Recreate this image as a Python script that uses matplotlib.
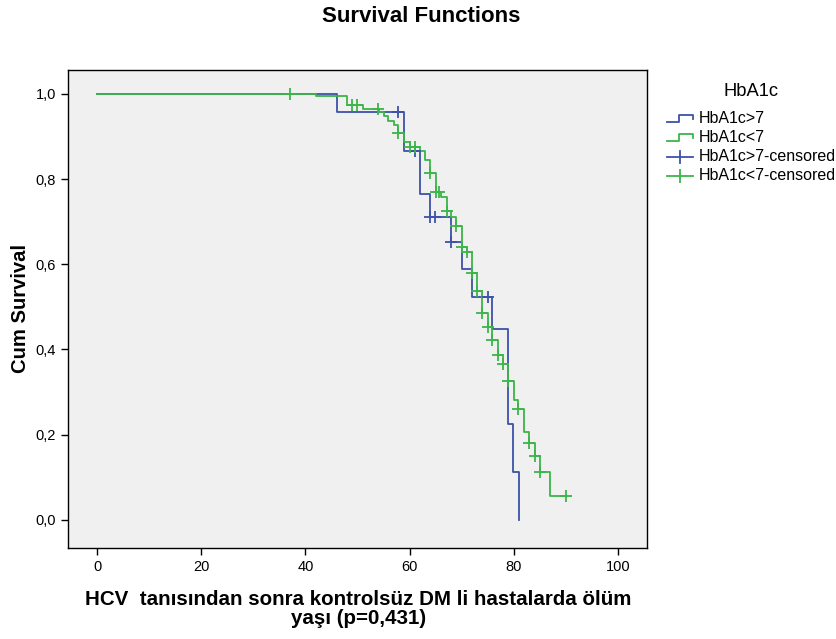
import numpy as np
import matplotlib
matplotlib.use("Agg")
import matplotlib.pyplot as plt
from matplotlib.legend_handler import HandlerBase
from matplotlib.lines import Line2D
from matplotlib.ticker import FuncFormatter

plt.rcParams['font.family'] = ['Liberation Sans', 'DejaVu Sans']

# Kaplan-Meier steps
hi_time = [0, 46.1, 58.9, 62.0, 64.0, 67.9, 70.0, 71.9, 75.9, 78.9, 79.9, 81.0]
hi_surv = [1.0, 0.957, 0.866, 0.765, 0.712, 0.653, 0.589, 0.523, 0.448, 0.224, 0.112, 0.0]
hi_cens = [57.8, 61.0, 64.0, 64.9, 67.9, 75.0]

lo_time = [0, 42.0, 47.9, 51.0, 54.2, 55.1, 55.9, 57.0, 57.8, 59.0, 60.0, 62.0, 63.0,
           64.0, 65.1, 66.0, 67.1, 67.9, 69.0, 70.0, 71.0, 71.9, 73.0, 73.9, 75.0,
           75.9, 76.9, 78.0, 79.0, 80.0, 80.9, 82.0, 83.0, 84.1, 85.0, 86.9, 90.0]
lo_surv = [1.0, 0.994, 0.974, 0.964, 0.957, 0.947, 0.937, 0.927, 0.908, 0.886, 0.876,
           0.866, 0.844, 0.814, 0.770, 0.759, 0.726, 0.712, 0.690, 0.641, 0.628, 0.579,
           0.538, 0.485, 0.452, 0.422, 0.386, 0.366, 0.325, 0.282, 0.260, 0.207, 0.181,
           0.151, 0.113, 0.056, 0.056]
lo_cens = [37.0, 48.9, 50.0, 54.0, 57.8, 60.0, 61.0, 64.0, 65.1, 65.7, 67.1, 69.0, 70.0,
           71.0, 71.9, 73.0, 73.9, 75.0, 75.9, 76.9, 78.0, 79.0, 80.9, 83.0, 84.1, 85.0, 90.0]

labels = ['HbA1c>7', 'HbA1c<7', 'HbA1c>7-censored', 'HbA1c<7-censored']
blue = '#3d52a8'
green = '#3cb54a'


def surv_at(times, surv, t):
    i = np.searchsorted(times, t, side='right') - 1
    return np.array(surv)[i]


class StepHandler(HandlerBase):
    def create_artists(self, legend, orig_handle, xd, yd, width, height, fontsize, trans):
        x = np.array([0, 0.45, 0.45, 1.0, 1.0]) * width - xd
        y = np.array([0.1, 0.1, 0.75, 0.75, 0.4]) * height - yd
        ln = Line2D(x, y, color=orig_handle.get_color(), lw=1.3, transform=trans)
        return [ln]


class CensHandler(HandlerBase):
    def create_artists(self, legend, orig_handle, xd, yd, width, height, fontsize, trans):
        c = orig_handle.get_color()
        h = Line2D([-xd, width - xd], [0.4 * height - yd] * 2, color=c, lw=1.3, transform=trans)
        v = Line2D([0.5 * width - xd] * 2, [-0.1 * height - yd, 0.9 * height - yd],
                   color=c, lw=1.3, transform=trans)
        return [h, v]


fig = plt.figure(figsize=(8.37, 6.39), dpi=100)
ax = fig.add_axes([0.0812, 0.1424, 0.6918, 0.7481])
ax.set_facecolor('#f0f0f0')

l1, = ax.step(hi_time, hi_surv, where='post', color=blue, lw=1.3)
l2, = ax.step(lo_time, lo_surv, where='post', color=green, lw=1.3)
c1, = ax.plot(hi_cens, surv_at(hi_time, hi_surv, hi_cens), ls='none', marker='+',
              ms=9, mew=1.3, color=blue)
c2, = ax.plot(lo_cens, surv_at(lo_time, lo_surv, lo_cens), ls='none', marker='+',
              ms=9, mew=1.3, color=green)

ax.set_xlim(-5.6, 105.6)
ax.set_ylim(-0.066, 1.056)
ax.set_xticks([0, 20, 40, 60, 80, 100])
ax.set_yticks([0, 0.2, 0.4, 0.6, 0.8, 1.0])
ax.yaxis.set_major_formatter(FuncFormatter(lambda v, p: f'{v:.1f}'.replace('.', ',')))
ax.tick_params(direction='out', length=5, width=1, labelsize=10.5)
for s in ax.spines.values():
    s.set_linewidth(1)

ax.set_ylabel('Cum Survival', fontsize=14.6, fontweight='bold', labelpad=4)
fig.text(0.428, 0.047, 'HCV  tanısından sonra kontrolsüz DM li hastalarda ölüm\nyaşı (p=0,431)',
         ha='center', va='center', fontsize=14.8, fontweight='bold', linespacing=1.0)
fig.suptitle('Survival Functions', x=0.503, y=0.991, va='top', fontsize=16, fontweight='bold')

leg = fig.legend([l1, l2, c1, c2], labels, loc='upper left', bbox_to_anchor=(0.7875, 0.882),
                 frameon=False, title='HbA1c', title_fontsize=13.2, fontsize=11.5,
                 borderpad=0, handlelength=1.65, handletextpad=0.3, labelspacing=0.25,
                 handler_map={l1: StepHandler(), l2: StepHandler(),
                              c1: CensHandler(), c2: CensHandler()})
leg._legend_box.align = 'center'
leg._legend_box.sep = 8

fig.savefig('out.png', dpi=100)
